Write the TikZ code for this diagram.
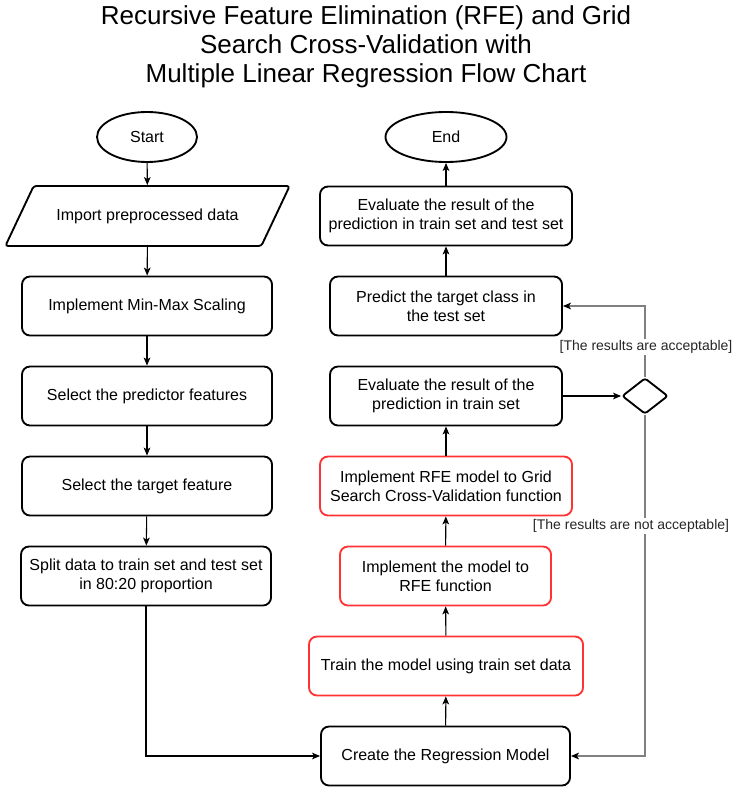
\documentclass[tikz,border=0pt]{standalone}
\usepackage{fontspec}
\setmainfont{Liberation Sans}
\usetikzlibrary{shapes.geometric,arrows.meta}
\definecolor{redline}{HTML}{FF3333}
\definecolor{grayline}{HTML}{808080}
\begin{document}
\begin{tikzpicture}[x=0.75pt,y=-0.75pt,
  boxfont/.style={font=\fontsize{12}{14.5}\selectfont},
  proc/.style={draw=black,line width=1.4pt,rounded corners=6pt,align=center,
    minimum height=44.25pt,inner sep=2pt,boxfont},
  redproc/.style={proc,draw=redline},
  term/.style={ellipse,draw=black,line width=1.4pt,minimum height=37.5pt,inner sep=0pt,boxfont},
  io/.style={trapezium,trapezium stretches=true,trapezium left angle=45,trapezium right angle=135,
    draw=black,line width=1.4pt,rounded corners=2pt,minimum width=213.75pt,minimum height=45pt,boxfont},
  decision/.style={diamond,draw=black,line width=1.4pt,rounded corners=2pt,minimum width=34.5pt,
    minimum height=27pt,inner sep=0pt,aspect=1.28},
  arr/.style={draw=black,line width=0.8pt,-{Stealth[length=6pt,width=5pt,inset=1.5pt]}},
  garr/.style={draw=grayline,line width=1.1pt,-{Stealth[length=6pt,width=5pt,inset=1.5pt,color=black]}},
  lbl/.style={fill=white,inner sep=1pt,font=\fontsize{10.5}{12}\selectfont,text=black!85},
  title/.style={align=center,font=\fontsize{19.5}{21.75}\selectfont}
]
\useasboundingbox (0,0) rectangle (732,788);
\node[title] (title) at (366,47) {Recursive Feature Elimination (RFE) and Grid\\Search Cross-Validation with\\Multiple Linear Regression Flow Chart};
% left column
\node[term,minimum width=75pt] (start) at (147,137) {Start};
\node[io] (imp) at (147.5,216) {Import preprocessed data};
\node[proc,minimum width=187.5pt] (mm) at (147,306) {Implement Min-Max Scaling};
\node[proc,minimum width=187.5pt] (pf) at (147,396) {Select the predictor features};
\node[proc,minimum width=187.5pt] (tf) at (147,486) {Select the target feature};
\node[proc,minimum width=187.5pt] (split) at (146,576) {Split data to train set and test set\\in 80:20 proportion};
% right column
\node[term,minimum width=90.75pt] (end) at (446,137) {End};
\node[proc,minimum width=189pt] (evb) at (446,216) {Evaluate the result of the\\prediction in train set and test set};
\node[proc,minimum width=174pt] (pred) at (446,306) {Predict the target class in\\the test set};
\node[proc,minimum width=174pt] (evt) at (446,396) {Evaluate the result of the\\prediction in train set};
\node[redproc,minimum width=189pt] (grid) at (446,486) {Implement RFE model to Grid\\Search Cross-Validation function};
\node[redproc,minimum width=158.25pt] (rfe) at (445.5,576) {Implement the model to\\RFE function};
\node[redproc,minimum width=205.5pt] (train) at (446,666) {Train the model using train set data};
\node[proc,minimum width=186.75pt] (create) at (445.5,756) {Create the Regression Model};
\node[decision] (dec) at (645,396) {};
% connectors left
\draw[arr] (start) -- (imp);
\draw[arr] (imp) -- (mm);
\draw[arr] (mm) -- (pf);
\draw[arr] (pf) -- (tf);
\draw[arr] (tf) -- (split);
\draw[arr] (split.south) |- (create.west);
% connectors right
\draw[arr] (create) -- (train);
\draw[arr] (train) -- (rfe);
\draw[arr] (rfe) -- (grid);
\draw[arr] (grid) -- (evt);
\draw[arr] (evt.east) -- (dec.west);
\draw[garr] (dec.north) |- (pred.east);
\draw[garr] (dec.south) |- (create.east);
\draw[arr] (pred) -- (evb);
\draw[arr] (evb) -- (end);
% labels
\node[lbl] (acc) at (646,347) {[The results are acceptable]};
\node[lbl] (nacc) at (631,526) {[The results are not acceptable]};
\end{tikzpicture}
\end{document}
